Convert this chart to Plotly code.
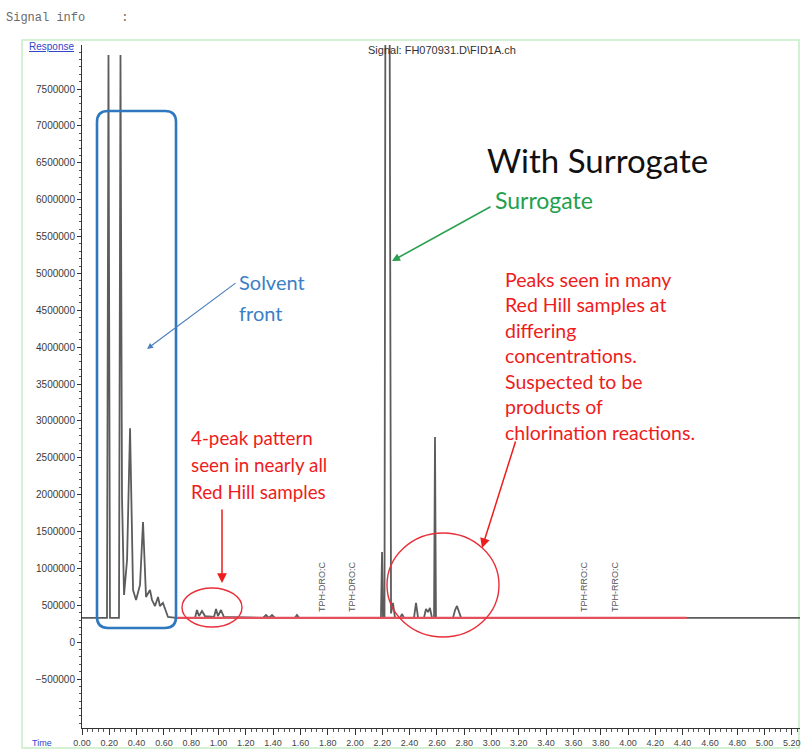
import plotly.graph_objects as go

# ---------------- data ----------------
time_min = [0.000, 0.176, 0.183, 0.194, 0.205, 0.271, 0.282, 0.293, 0.308, 0.330,
            0.352, 0.374, 0.396, 0.425, 0.447, 0.469, 0.498, 0.513, 0.535, 0.557,
            0.571, 0.593, 0.630, 0.689,
            0.755, 0.828, 0.842, 0.857, 0.879, 0.901, 0.967, 0.982, 0.996, 1.018, 1.040,
            1.326, 1.348, 1.370, 1.392, 1.414, 1.560, 1.575, 1.590,
            2.190, 2.198, 2.205, 2.216, 2.223, 2.253, 2.264,
            2.278, 2.293, 2.330, 2.344, 2.359, 2.432, 2.447, 2.462, 2.505, 2.520,
            2.535, 2.549, 2.564, 2.579, 2.586, 2.593, 2.718, 2.733, 2.747, 2.762,
            2.777, 5.260]
response = [330000, 330000, 330000, 7960000, 330000, 330000, 7960000, 1970000, 640000, 1115000,
            2900000, 708000, 572000, 776000, 1630000, 613000, 708000, 572000, 491000, 613000,
            491000, 532000, 342000, 330000,
            330000, 330000, 437000, 355000, 423000, 355000, 342000, 450000, 355000, 437000, 342000,
            330000, 369000, 330000, 369000, 330000, 330000, 369000, 330000,
            330000, 1223000, 330000, 330000, 9000000, 9000000, 390000,
            532000, 330000, 330000, 382000, 330000, 330000, 532000, 330000, 330000, 450000,
            409000, 464000, 330000, 330000, 2782000, 330000, 330000, 437000, 491000, 409000,
            330000, 330000]

x_tick_vals = [0.0, 0.2, 0.4, 0.6, 0.8, 1.0, 1.2, 1.4, 1.6, 1.8, 2.0, 2.2, 2.4, 2.6,
               2.8, 3.0, 3.2, 3.4, 3.6, 3.8, 4.0, 4.2, 4.4, 4.6, 4.8, 5.0, 5.2]
x_tick_text = ["0.00", "0.20", "0.40", "0.60", "0.80", "1.00", "1.20", "1.40", "1.60",
               "1.80", "2.00", "2.20", "2.40", "2.60", "2.80", "3.00", "3.20", "3.40",
               "3.60", "3.80", "4.00", "4.20", "4.40", "4.60", "4.80", "5.00", "5.20"]
y_tick_vals = [-500000, 0, 500000, 1000000, 1500000, 2000000, 2500000, 3000000, 3500000,
               4000000, 4500000, 5000000, 5500000, 6000000, 6500000, 7000000, 7500000]

event_times = [1.758, 1.978, 3.678, 3.905]
event_labels = ["TPH-DRO:C", "TPH-DRO:C", "TPH-RRO:C", "TPH-RRO:C"]
event_level = 748000
red_baseline = [0.70, 4.43]
baseline_level = 330000

# ---------------- layout geometry ----------------
W, H = 801, 749
L, R, T, B = 82, 1, 45, 21
PW, PH = W - L - R, H - T - B


def PX(x):
    return (x - L) / PW


def PY(y):
    return (H - B - y) / PH


fig = go.Figure()
fig.add_trace(go.Scatter(x=time_min, y=response, mode="lines",
                         line=dict(color="#5c5c5c", width=1.8), hoverinfo="skip"))

shapes = []
# red baseline highlight
shapes.append(dict(type="line", xref="x", yref="y", x0=red_baseline[0], x1=red_baseline[1],
                   y0=baseline_level, y1=baseline_level,
                   line=dict(color="#e4505c", width=2.2)))
# light green frame
shapes.append(dict(type="rect", xref="paper", yref="paper", x0=PX(22), x1=PX(799),
                   y0=PY(748), y1=PY(40), line=dict(color="#c6edc6", width=1.5), layer="below"))
# blue rounded rectangle
x0, x1, yb, yt = PX(97), PX(176), PY(628), PY(111)
rx, ry = 11 / PW, 11 / PH
path = (f"M {x0+rx},{yt} L {x1-rx},{yt} Q {x1},{yt} {x1},{yt-ry} L {x1},{yb+ry} "
        f"Q {x1},{yb} {x1-rx},{yb} L {x0+rx},{yb} Q {x0},{yb} {x0},{yb+ry} "
        f"L {x0},{yt-ry} Q {x0},{yt} {x0+rx},{yt} Z")
shapes.append(dict(type="path", xref="paper", yref="paper", path=path,
                   line=dict(color="#2f78c0", width=2.6)))
# red ellipses
shapes.append(dict(type="circle", xref="paper", yref="paper", x0=PX(387), x1=PX(499),
                   y0=PY(637), y1=PY(533), line=dict(color="#e8303a", width=1.4)))
shapes.append(dict(type="circle", xref="paper", yref="paper", x0=PX(182), x1=PX(242),
                   y0=PY(627), y1=PY(588), line=dict(color="#e8303a", width=1.4)))

ann = []


def txt(x, y, s, size, color, family="Lato", xanchor="left"):
    ann.append(dict(x=PX(x), y=PY(y), xref="paper", yref="paper", text=s, showarrow=False,
                    xanchor=xanchor, yanchor="middle",
                    font=dict(size=size, color=color, family=family)))


def arrow(tx, ty, hx, hy, color, width, head, size=1.0):
    ann.append(dict(x=PX(hx), y=PY(hy), xref="paper", yref="paper", ax=tx - hx, ay=ty - hy,
                    axref="pixel", ayref="pixel", text="", showarrow=True, arrowhead=head,
                    arrowcolor=color, arrowwidth=width, arrowsize=size, standoff=0))


# header texts
txt(4, 18, "Signal info     :", 12, "#6a6a6a", family="Liberation Mono")
txt(27, 47, "<u>Response</u>", 10, "#3344cc", family="Liberation Sans")
txt(30, 743, "Time", 9, "#3344cc", family="Liberation Sans")
txt(442, 50, "Signal: FH070931.D\\FID1A.ch", 11, "#333333", family="Liberation Sans",
    xanchor="center")

# event labels (rotated)
for t, lab in zip(event_times, event_labels):
    ann.append(dict(x=t, y=event_level, xref="x", yref="y", text=lab, showarrow=False,
                    textangle=-90, font=dict(size=9, color="#555555", family="Liberation Sans")))

# annotation texts
txt(485, 160, "With Surrogate", 33, "#111111")
txt(493, 200, "Surrogate", 23, "#23a04e")
txt(237, 282, "Solvent", 20, "#3b7fc6")
txt(237, 313, "front", 20, "#3b7fc6")
red_lines = ["Peaks seen in many", "Red Hill samples at", "differing", "concentrations.",
             "Suspected to be", "products of", "chlorination reactions."]
for i, s in enumerate(red_lines):
    txt(503, 279 + i * 25.5, s, 19.5, "#ee1c1c")
small_lines = ["4-peak pattern", "seen in nearly all", "Red Hill samples"]
for i, s in enumerate(small_lines):
    txt(189, 438 + i * 26.5, s, 18.8, "#ee1c1c")

# arrows
arrow(237, 282, 147, 349, "#4a7fc0", 1.2, 2, 1.0)
arrow(492, 206, 392, 261, "#2aa050", 1.6, 2, 1.0)
arrow(516, 440, 482, 548, "#ee1c1c", 1.5, 2, 1.3)
arrow(222, 508, 222, 583, "#ee1c1c", 1.5, 2, 1.3)

fig.update_layout(
    width=W, height=H, margin=dict(l=L, r=R, t=T, b=B),
    paper_bgcolor="white", plot_bgcolor="white", showlegend=False,
    shapes=shapes, annotations=ann,
    xaxis=dict(range=[0, 5.26], tickvals=x_tick_vals, ticktext=x_tick_text,
               showgrid=False, zeroline=False, showline=True, linecolor="#333333",
               linewidth=1, ticks="outside", ticklen=6, tickcolor="#333333",
               tickfont=dict(size=9, color="#444444", family="Liberation Sans"),
               minor=dict(dtick=0.04, ticklen=3, tickcolor="#555555", ticks="outside")),
    yaxis=dict(range=[-1163000, 8097000], tickvals=y_tick_vals, tickformat="d",
               showgrid=False, zeroline=False, showline=True, linecolor="#333333",
               linewidth=1, ticks="outside", ticklen=4, tickcolor="#333333",
               tickfont=dict(size=10, color="#3a3a3a", family="Liberation Sans"),
               minor=dict(dtick=100000, ticklen=2, tickcolor="#555555", ticks="outside")),
)

fig.write_html("out.html", config={"displayModeBar": False},
               post_script="document.body.style.margin='0';")
